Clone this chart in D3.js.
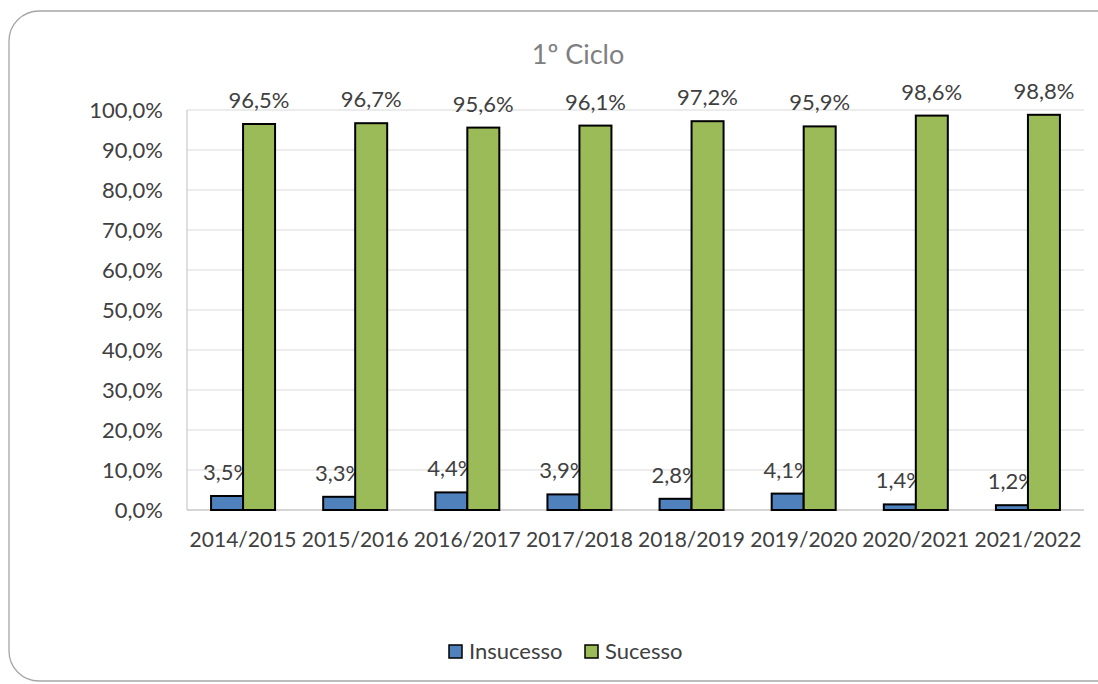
<!DOCTYPE html>
<html><head><meta charset="utf-8">
<script src="https://cdn.jsdelivr.net/npm/d3@7"></script>
<style>body{margin:0;background:#fff}svg{display:block}text{font-family:Lato,"Open Sans",sans-serif}</style>
</head><body>
<svg id="c" width="1098" height="684"></svg>
<script>
const categories=["2014/2015","2015/2016","2016/2017","2017/2018","2018/2019","2019/2020","2020/2021","2021/2022"];
const insucesso=[3.5,3.3,4.4,3.9,2.8,4.1,1.4,1.2];
const sucesso=[96.5,96.7,95.6,96.1,97.2,95.9,98.6,98.8];
const yTicks=[0,10,20,30,40,50,60,70,80,90,100];
const seriesNames=["Insucesso","Sucesso"];
const colors=["#4f81bd","#9bbb59"];

const svg=d3.select("#c");
svg.append("rect").attr("x",9).attr("y",11).attr("width",1120).attr("height",670).attr("rx",30)
  .attr("fill","#fff").attr("stroke","#a6a6a6").attr("stroke-width",1.3);
const m={l:187,r:1084,t:110,b:510};
const x=d3.scaleBand().domain(categories).range([m.l,m.r]);
const y=d3.scaleLinear().domain([0,100]).range([m.b,m.t]);
const fmt=v=>v.toFixed(1).replace(".",",")+"%";
const fs=22;

svg.append("g").selectAll("line").data(yTicks).join("line")
  .attr("x1",m.l).attr("x2",m.r).attr("y1",d=>y(d)).attr("y2",d=>y(d))
  .attr("stroke","#d9d9d9").attr("stroke-width",1);
svg.append("line").attr("x1",m.l).attr("x2",m.l).attr("y1",m.t).attr("y2",m.b).attr("stroke","#bfbfbf");
svg.append("line").attr("x1",m.l).attr("x2",m.r).attr("y1",m.b).attr("y2",m.b).attr("stroke","#bfbfbf");

const yAxis=d3.axisLeft(y).tickValues(yTicks).tickSize(0).tickPadding(24).tickFormat(d=>d.toFixed(1).replace(".",",")+"%");
const ga=svg.append("g").attr("transform",`translate(${m.l},0)`).call(yAxis);
ga.select(".domain").remove();
ga.selectAll("text").attr("font-size",fs).attr("fill","#404040").attr("font-family","Lato,sans-serif");

const xAxis=d3.axisBottom(x).tickSize(0).tickPadding(22);
const gx=svg.append("g").attr("transform",`translate(0,${m.b})`).call(xAxis);
gx.select(".domain").remove();
gx.selectAll("text").attr("font-size",21).attr("fill","#404040").attr("font-family","Lato,sans-serif");

const bw=32;
[insucesso,sucesso].forEach((vals,si)=>{
  const off=si===0?-bw:0;
  const g=svg.append("g");
  g.selectAll("rect").data(vals).join("rect")
    .attr("x",(d,i)=>x(categories[i])+x.bandwidth()/2+off)
    .attr("y",d=>y(d)).attr("width",bw).attr("height",d=>y(0)-y(d))
    .attr("fill",colors[si]).attr("stroke","#000").attr("stroke-width",2);
  g.selectAll("text").data(vals).join("text")
    .attr("x",(d,i)=>x(categories[i])+x.bandwidth()/2+off+bw/2)
    .attr("y",d=>y(d)-16).attr("text-anchor","middle")
    .attr("font-size",fs).attr("fill","#404040").text(fmt);
});

svg.append("text").attr("x",578).attr("y",64).attr("text-anchor","middle")
  .attr("font-size",27).attr("fill","#7f7f7f").text("1º Ciclo");

const lx=[449,585];
seriesNames.forEach((n,i)=>{
  svg.append("rect").attr("x",lx[i]).attr("y",645).attr("width",13).attr("height",13)
    .attr("fill",colors[i]).attr("stroke","#000").attr("stroke-width",1.5);
  svg.append("text").attr("x",lx[i]+20).attr("y",659).attr("font-size",fs).attr("fill","#404040").text(n);
});
</script>
</body></html>
